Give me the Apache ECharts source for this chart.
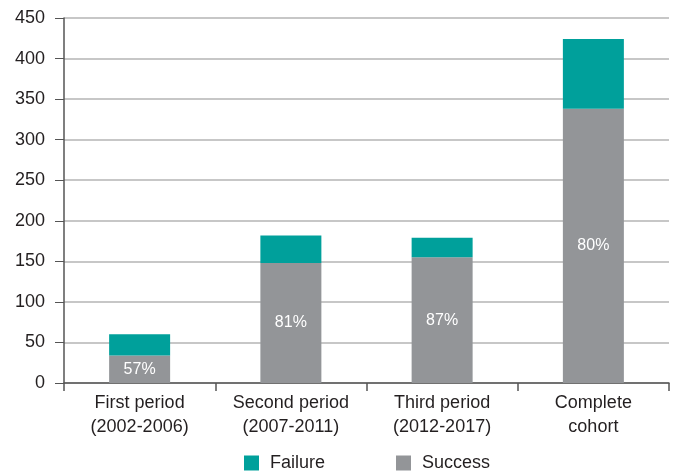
<!DOCTYPE html>
<html>
<head>
<meta charset="utf-8">
<script src="https://cdn.jsdelivr.net/npm/echarts@6/dist/echarts.min.js"></script>
<style>
  html, body { margin: 0; padding: 0; background: #fff; }
  #chart { width: 676px; height: 473px; }
</style>
</head>
<body>
<div id="chart"></div>
<script>
// Cohort outcomes by period
const categories = ['First period\n(2002-2006)', 'Second period\n(2007-2011)', 'Third period\n(2012-2017)', 'Complete\ncohort'];
const successValues = [34, 148, 155, 338];
const failureValues = [26, 34, 24, 86];
const yTicks = { min: 0, max: 450, interval: 50 };

const textColor = '#231f20';
const font = 'Liberation Sans, Arial, sans-serif';

const chart = echarts.init(document.getElementById('chart'), null, { renderer: 'canvas' });

chart.setOption({
  animation: false,
  textStyle: { fontFamily: font },
  grid: { left: 64, right: 7, top: 18, bottom: 90, containLabel: false },
  legend: {
    top: 449,
    left: 239,
    itemWidth: 15,
    itemHeight: 15,
    itemGap: 71,
    icon: 'rect',
    textStyle: { fontSize: 18, color: textColor, fontFamily: font, padding: [0, 0, 0, 6] },
    data: ['Failure', 'Success']
  },
  xAxis: {
    type: 'category',
    data: categories,
    axisLine: { lineStyle: { color: '#555', width: 1.5 } },
    axisTick: { show: true, length: 8, lineStyle: { color: '#555', width: 1.5 } },
    axisLabel: { fontSize: 18, color: textColor, lineHeight: 24, margin: 8, fontFamily: font }
  },
  yAxis: {
    type: 'value',
    min: yTicks.min,
    max: yTicks.max,
    interval: yTicks.interval,
    axisLine: { show: true, lineStyle: { color: '#555', width: 1.5 } },
    axisTick: { show: true, length: 9, lineStyle: { color: '#555', width: 1 } },
    axisLabel: { fontSize: 18, color: textColor, margin: 19, fontFamily: font },
    splitLine: { lineStyle: { color: '#b5b5b5', width: 1.5 } }
  },
  series: [
    {
      name: 'Success',
      type: 'bar',
      stack: 'total',
      barWidth: 61,
      data: successValues,
      itemStyle: { color: '#939598' },
      label: {
        show: true,
        position: 'inside',
        color: '#fff',
        fontSize: 16,
        fontFamily: font,
        formatter: p => Math.round(successValues[p.dataIndex] / (successValues[p.dataIndex] + failureValues[p.dataIndex]) * 100) + '%'
      }
    },
    {
      name: 'Failure',
      type: 'bar',
      stack: 'total',
      barWidth: 61,
      data: failureValues,
      itemStyle: { color: '#00a09b' }
    }
  ]
});
</script>
</body>
</html>
